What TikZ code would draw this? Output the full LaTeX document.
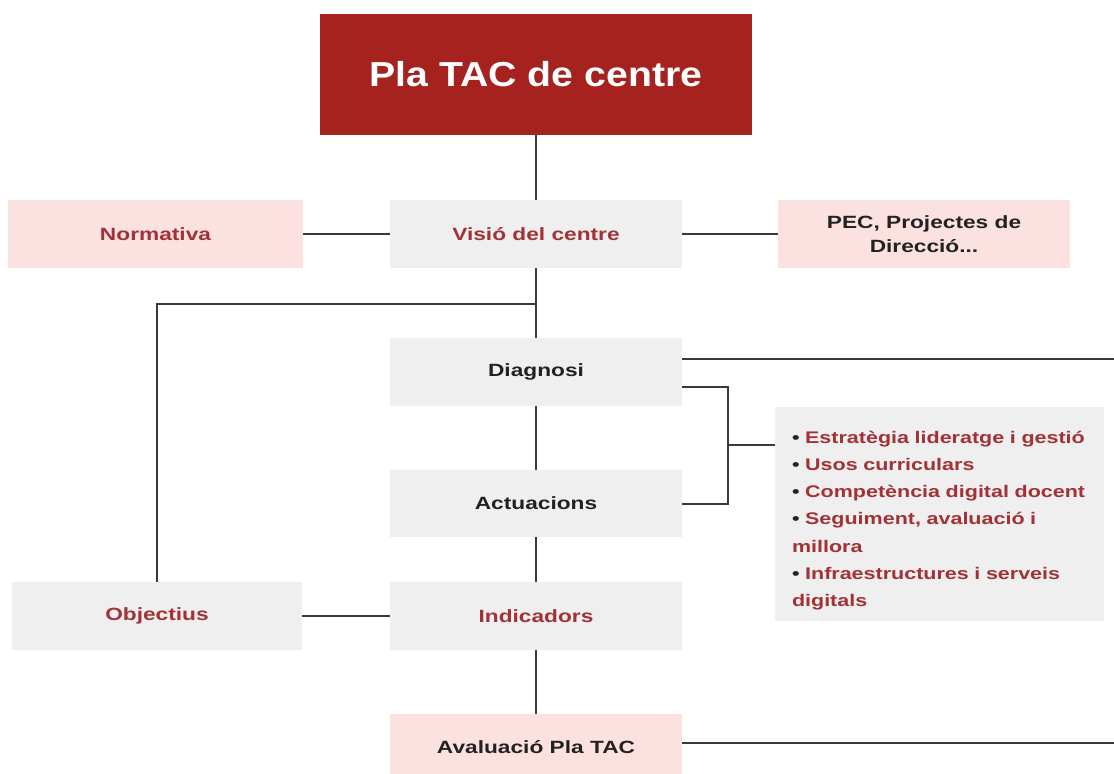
\documentclass[tikz,border=0pt]{standalone}
\usepackage{fontspec}
\setmainfont{Liberation Sans}
\newfontfamily\boxfont[FakeStretch=1.28]{Liberation Sans}
\newfontfamily\titlefont[FakeStretch=1.13]{Liberation Sans}
\definecolor{titlered}{HTML}{A5221E}
\definecolor{txtred}{HTML}{A23236}
\definecolor{pinkbg}{HTML}{FBE1DF}
\definecolor{graybg}{HTML}{EFEFEF}
\definecolor{txtdark}{HTML}{222222}
\definecolor{linecol}{HTML}{3A3A3A}
\tikzset{
  base/.style={inner sep=0pt, align=center, font=\boxfont\bfseries\fontsize{13.3}{18}\selectfont},
  pinkbox/.style={base, fill=pinkbg},
  graybox/.style={base, fill=graybg},
  redtxt/.style={text=txtred},
  darktxt/.style={text=txtdark},
  conn/.style={draw=linecol, line width=1.5pt}
}
\begin{document}
\begin{tikzpicture}[x=0.75pt,y=-0.75pt]
\useasboundingbox (0,0) rectangle (1114,774);
% nodes
\node[fill=titlered, text=white, inner sep=0pt, minimum width=432*0.75pt, minimum height=121*0.75pt,
      font=\titlefont\bfseries\fontsize{26}{30}\selectfont] (title) at (536,74.5) {Pla TAC de centre};
\node[pinkbox, redtxt, minimum width=295*0.75pt, minimum height=68*0.75pt] (norm) at (155.5,234) {Normativa};
\node[graybox, redtxt, minimum width=292*0.75pt, minimum height=68*0.75pt] (visio) at (536,234) {Visió del centre};
\node[pinkbox, darktxt, minimum width=292*0.75pt, minimum height=68*0.75pt] (pec) at (924,234) {PEC, Projectes de\\Direcció...};
\node[graybox, darktxt, minimum width=292*0.75pt, minimum height=68*0.75pt] (diag) at (536,372) {Diagnosi};
\node[graybox, darktxt, minimum width=292*0.75pt, minimum height=67*0.75pt] (actu) at (536,503.5) {Actuacions};
\node[graybox, redtxt, minimum width=290*0.75pt, minimum height=68*0.75pt] (obj) at (157,616) {Objectius};
\node[graybox, redtxt, minimum width=292*0.75pt, minimum height=68*0.75pt] (indic) at (536,616) {Indicadors};
\node[pinkbox, darktxt, minimum width=292*0.75pt, minimum height=60*0.75pt] (aval) at (536,744) {\rule{0pt}{14pt}Avaluació Pla TAC};
\node[fill=graybg, text=txtred, inner xsep=17*0.75pt, inner ysep=0pt, text width=295*0.75pt, align=left,
      minimum height=214*0.75pt,
      font=\boxfont\bfseries\fontsize{12.6}{20.4}\selectfont] (bul) at (939.5,514)
  {\rule{0pt}{19pt}{\color{txtdark}•} Estratègia lideratge i gestió\\
   {\color{txtdark}•} Usos curriculars\\
   {\color{txtdark}•} Competència digital docent\\
   {\color{txtdark}•} Seguiment, avaluació i\\
   millora\\
   {\color{txtdark}•} Infraestructures i serveis\\
   digitals};
% helper coordinates
\coordinate (j1) at (536,304);
\coordinate (dr) at (1114,359);
\coordinate (bt) at (728,387);
\coordinate (bm) at (728,445);
\coordinate (bb) at (728,503.5);
\coordinate (ar) at (1114,743);
% connectors
\draw[conn] (title.south) -- (visio.north);
\draw[conn] (norm.east) -- (visio.west);
\draw[conn] (visio.east) -- (pec.west);
\draw[conn] (visio.south) -- (diag.north);
\draw[conn] (j1) -| (obj.north);
\draw[conn] (diag.east |- dr) -- (dr);
\draw[conn] (diag.east |- bt) -- (bt) -- (bb) -- (actu.east |- bb);
\draw[conn] (bm) -- (bul.west |- bm);
\draw[conn] (diag.south) -- (actu.north);
\draw[conn] (actu.south) -- (indic.north);
\draw[conn] (obj.east) -- (indic.west);
\draw[conn] (indic.south) -- (aval.north);
\draw[conn] (aval.east |- ar) -- (ar);
\end{tikzpicture}
\end{document}
